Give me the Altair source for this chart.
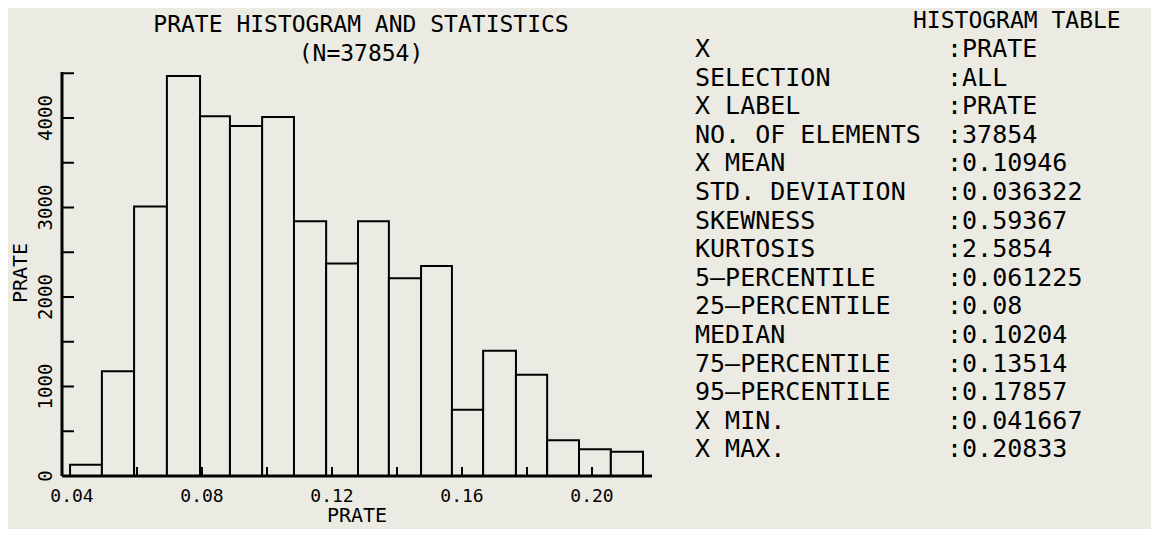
import altair as alt
import pandas as pd

# ---- data ----
bin_lo = [0.0394, 0.0492, 0.0591, 0.0692, 0.0794, 0.0886, 0.0985, 0.1083, 0.1182,
          0.1280, 0.1375, 0.1474, 0.1569, 0.1665, 0.1766, 0.1862, 0.1960, 0.2058]
bin_hi = [0.0492, 0.0591, 0.0692, 0.0794, 0.0886, 0.0985, 0.1083, 0.1182, 0.1280,
          0.1375, 0.1474, 0.1569, 0.1665, 0.1766, 0.1862, 0.1960, 0.2058, 0.2157]
counts = [125, 1170, 3010, 4470, 4020, 3910, 4010, 2845, 2375,
          2845, 2210, 2345, 740, 1400, 1130, 400, 300, 270]

x_label_values = [0.04, 0.08, 0.12, 0.16, 0.20]
x_tick_values = [0.06, 0.08, 0.10, 0.12, 0.14, 0.16, 0.18, 0.20]
y_label_values = [0, 1000, 2000, 3000, 4000]
y_tick_values = [500, 1000, 1500, 2000, 2500, 3000, 3500, 4000, 4500]

title_line1 = "PRATE HISTOGRAM AND STATISTICS"
title_line2 = "(N=37854)"
axis_title = "PRATE"
table_title = "HISTOGRAM TABLE"
table_keys = ["X", "SELECTION", "X LABEL", "NO. OF ELEMENTS", "X MEAN",
              "STD. DEVIATION", "SKEWNESS", "KURTOSIS", "5—PERCENTILE",
              "25—PERCENTILE", "MEDIAN", "75—PERCENTILE", "95—PERCENTILE",
              "X MIN.", "X MAX."]
table_vals = [":PRATE", ":ALL", ":PRATE", ":37854", ":0.10946", ":0.036322",
              ":0.59367", ":2.5854", ":0.061225", ":0.08", ":0.10204",
              ":0.13514", ":0.17857", ":0.041667", ":0.20833"]

# ---- styling ----
BG = "#ebebe3"
FONT = "DejaVu Sans Mono"
W, H = 590, 404

hist_df = pd.DataFrame({"lo": bin_lo, "hi": bin_hi, "count": counts})
xscale = alt.Scale(domain=[0.03692, 0.21846], nice=False, zero=False)
yscale = alt.Scale(domain=[0, 4514], nice=False, zero=False)

bars = alt.Chart(hist_df).mark_rect(fill=BG, stroke="black", strokeWidth=2).encode(
    x=alt.X("lo:Q", scale=xscale, axis=None),
    x2="hi:Q",
    y=alt.Y("count:Q", scale=yscale, axis=None),
    y2=alt.datum(0),
)

# axis lines
x_axis_line = alt.Chart(pd.DataFrame({"a": [0]})).mark_rule(
    color="black", strokeWidth=3).encode(x=alt.value(0), x2=alt.value(W), y=alt.value(H))
y_axis_line = alt.Chart(pd.DataFrame({"a": [0]})).mark_rule(
    color="black", strokeWidth=3).encode(x=alt.value(0), y=alt.value(0), y2=alt.value(H))

# inward ticks
yticks = alt.Chart(pd.DataFrame({"v": y_tick_values})).mark_rule(
    color="black", strokeWidth=2).encode(
    y=alt.Y("v:Q", scale=yscale, axis=None), x=alt.value(0), x2=alt.value(12))
xticks = alt.Chart(pd.DataFrame({"v": x_tick_values})).mark_rule(
    color="black", strokeWidth=2).encode(
    x=alt.X("v:Q", scale=xscale, axis=None), y=alt.value(H), y2=alt.value(H - 9))

# tick labels
xlabels = alt.Chart(pd.DataFrame({"v": x_label_values})).mark_text(
    font=FONT, fontSize=18, color="black", align="center", baseline="middle").encode(
    x=alt.X("v:Q", scale=xscale, axis=None), y=alt.value(H + 21),
    text=alt.Text("v:Q", format=".2f"))
ylabels = alt.Chart(pd.DataFrame({"v": y_label_values})).mark_text(
    font=FONT, fontSize=19, color="black", align="center", baseline="middle",
    angle=270).encode(
    y=alt.Y("v:Q", scale=yscale, axis=None), x=alt.value(-16.5),
    text=alt.Text("v:Q", format="d"))


def label(text, x, y, size, align="center", angle=0, baseline="middle", line_height=None):
    kw = dict(font=FONT, fontSize=size, color="black", align=align, baseline=baseline)
    if angle:
        kw["angle"] = angle
    if line_height:
        kw["lineBreak"] = "\n"
        kw["lineHeight"] = line_height
    return alt.Chart(pd.DataFrame({"t": [text]})).mark_text(**kw).encode(
        text="t:N", x=alt.value(x), y=alt.value(y))


t1 = label(title_line1, 299, -47, 23)
t2 = label(title_line2, 299, -18, 23)
xt = label(axis_title, 295, 450, 20, baseline="alphabetic")
yt = label(axis_title, -41, 201, 20, angle=270)
tt = label(table_title, 851, -51, 23, align="left")
keys = label("\n".join(table_keys), 633, -23, 25, align="left", line_height=28.6)
vals = label("\n".join(table_vals), 885, -23, 25, align="left", line_height=28.6)

chart = alt.layer(bars, yticks, xticks, x_axis_line, y_axis_line, xlabels, ylabels,
                  t1, t2, xt, yt, tt, keys, vals).properties(
    width=W, height=H, background=BG,
    padding={"left": 54, "top": 64, "right": 499, "bottom": 53},
    autosize=alt.AutoSizeParams(type="none"),
).configure_view(stroke=None)

chart.save("out.html", embed_options={"renderer": "svg", "actions": False})
